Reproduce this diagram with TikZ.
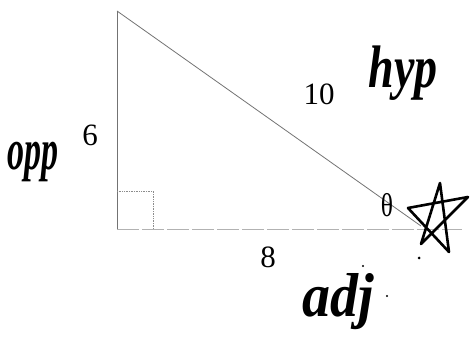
\documentclass[tikz,border=0pt]{standalone}
\usepackage{graphicx}
\usepackage{fontspec}
\newfontfamily\numfont{Liberation Serif}
\begin{document}
\begin{tikzpicture}[x=1pt,y=-1pt,
  side/.style={draw=black!55, line width=0.8pt},
  base/.style={draw=black!30, line width=0.9pt, dash pattern=on 22pt off 3pt},
  rightmark/.style={draw=black!45, line width=0.7pt, densely dotted},
  num/.style={inner sep=0pt, font=\fontsize{31}{31}\selectfont\numfont},
  hand/.style={inner sep=0pt, font=\fontsize{40}{40}\selectfont\numfont\itshape\bfseries},
  starline/.style={draw=black, line width=2.6pt, line cap=round, line join=round}]
\useasboundingbox (0,0) rectangle (472,342);
\coordinate (A) at (117,11);
\coordinate (B) at (117,229);
\coordinate (C) at (421,226);
\coordinate (Bend) at (462,229);
\draw[side] (A) -- (B);
\draw[side] (A) -- (C);
\draw[base] (B) -- (Bend);
\coordinate (R1) at (117,191);
\coordinate (R2) at (153,191);
\coordinate (R3) at (153,229);
\draw[rightmark] (R1) -- (R2) -- (R3);
\node[num] (six) at (90,135) {6};
\node[num] (ten) at (319,94) {10};
\node[num] (eight) at (268,257) {8};
\node[inner sep=0pt, font=\fontsize{30}{30}\selectfont\numfont] (theta) at (387,205) {\scalebox{0.85}[1.1]{θ}};
\node[hand] (hyp) at (403,73) {\scalebox{1.15}[1.5]{hyp}};
\node[hand] (opp) at (33,162) {\scalebox{0.85}[1.45]{opp}};
\node[hand] (adj) at (338,302) {\scalebox{1.4}[1.55]{adj}};
% hand-drawn star
\coordinate (ST) at (440,183);
\coordinate (SR) at (468,197);
\coordinate (SBR) at (449,252);
\coordinate (SBL) at (421,244);
\coordinate (SL) at (408,208);
\draw[starline] (ST) -- (SBR) -- (SL) -- (SR) -- (SBL) -- cycle;
\fill (419,258) circle (1.5pt);
\fill (363,266) circle (1.2pt);
\fill (387,296) circle (1.2pt);
\end{tikzpicture}
\end{document}
